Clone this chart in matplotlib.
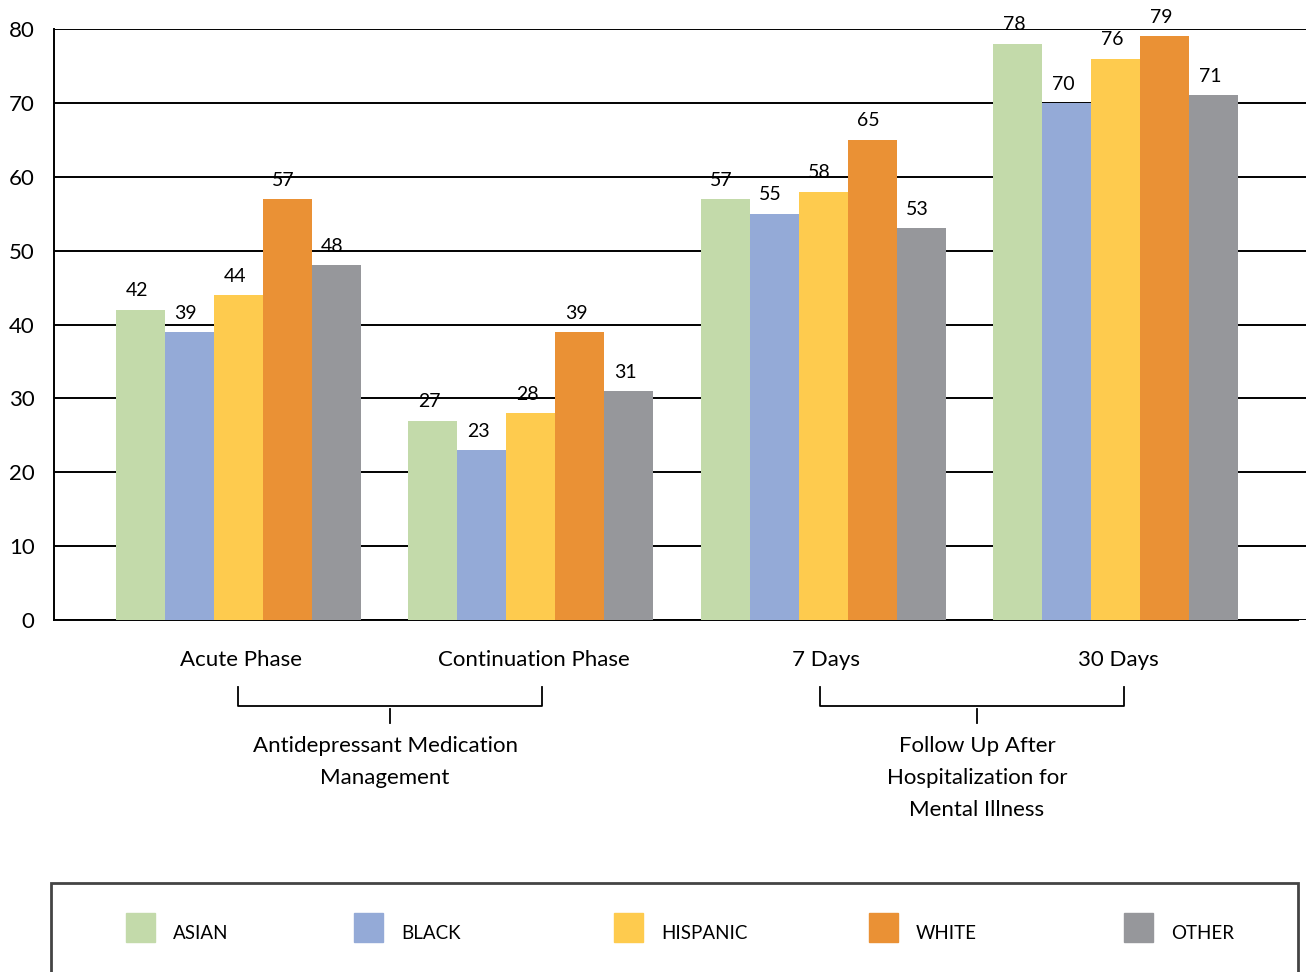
import numpy as np
import matplotlib
matplotlib.use("Agg")
import matplotlib.pyplot as plt
from matplotlib.patches import Rectangle

plt.rcParams['font.family'] = ['Lato', 'DejaVu Sans']

# data
categories = ["Acute Phase", "Continuation Phase", "7 Days", "30 Days"]
groups = ["Antidepressant Medication\nManagement",
          "Follow Up After\nHospitalization for\nMental Illness"]
series = ["ASIAN", "BLACK", "HISPANIC", "WHITE", "OTHER"]
asian = [42, 27, 57, 78]
black = [39, 23, 55, 70]
hispanic = [44, 28, 58, 76]
white = [57, 39, 65, 79]
other = [48, 31, 53, 71]
colors = ["#C3DAAA", "#94AAD7", "#FECB4E", "#EA9135", "#96979B"]

values = [asian, black, hispanic, white, other]

fig = plt.figure(figsize=(13.06, 9.72), dpi=100)
ax = fig.add_axes([0.0414, 0.3621, 0.9586, 0.6081])

x = np.arange(len(categories))
w = 0.1675
for i, (vals, c) in enumerate(zip(values, colors)):
    pos = x + (i - 2) * w
    ax.bar(pos, vals, width=w, color=c, zorder=3)
    for px, v in zip(pos, vals):
        ax.text(px - 0.012, v + 1.4, str(v), ha="center", va="bottom",
                fontsize=14, clip_on=False)

ax.set_xlim(-0.629, 3.651)
ax.set_ylim(0, 80)
ax.set_yticks(range(0, 81, 10))
ax.tick_params(axis="y", length=0, labelsize=16, pad=14)
ax.set_xticks([])
ax.grid(axis="y", color="black", linewidth=1.4, zorder=0)
for s in ["top", "right"]:
    ax.spines[s].set_visible(False)
ax.spines["left"].set_linewidth(1.4)
ax.spines["bottom"].set_linewidth(1.4)
ax.spines["bottom"].set_bounds(-0.629, 3.625)

# category labels
trans = ax.get_xaxis_transform()
for xi, lab in zip(x, categories):
    ax.text(xi + 0.01, -0.068, lab, ha="center", va="center", fontsize=16,
            transform=trans)

# brackets: ends, middle tick, label centre
y_top = -0.114
y_mid = -0.146
y_bot = -0.175
brackets = [(0, 1.04, 0.52, 0.503), (1.99, 3.03, 2.526, 2.526)]
for (a, b, m, t), g in zip(brackets, groups):
    ax.plot([a, a, b, b], [y_top, y_mid, y_mid, y_top], color="black",
            lw=1.3, transform=trans, clip_on=False)
    ax.plot([m, m], [y_mid - 0.005, y_bot], color="black", lw=1.3,
            transform=trans, clip_on=False)
    ax.text(t, y_bot - 0.022, g, ha="center", va="top", fontsize=16,
            linespacing=1.75, transform=trans)

# legend box
fig.patches.append(Rectangle((51 / 1306, -0.05), (1298 - 51) / 1306,
                             1 - 883 / 972 + 0.05, transform=fig.transFigure,
                             fill=False, edgecolor="#444444", lw=2))
leg_x = [126, 354, 614, 869, 1124]
for lx, lab, c in zip(leg_x, series, colors):
    fig.patches.append(Rectangle((lx / 1306, 1 - 942 / 972), 29 / 1306,
                                 29 / 972, transform=fig.transFigure,
                                 color=c))
    fig.text((lx + 47) / 1306, 1 - 933 / 972, lab, ha="left", va="center",
             fontsize=13.5)

fig.savefig("out.png", dpi=100)
